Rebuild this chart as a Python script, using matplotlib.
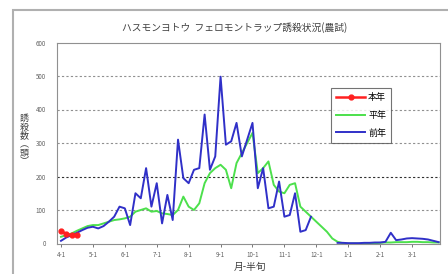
import numpy as np
import matplotlib
matplotlib.use('Agg')
import matplotlib.pyplot as plt
from matplotlib.patches import Rectangle

plt.rcParams['font.family'] = ['Noto Sans CJK JP', 'DejaVu Sans']

#  Data: 72 half-decade periods (4-1 .. 3-6)
month_labels = ['4-1', '5-1', '6-1', '7-1', '8-1', '9-1',
                '10-1', '11-1', '12-1', '1-1', '2-1', '3-1']

this_year = [38, 28, 25, 25]

normal_year = [20, 25, 30, 38, 45, 52, 55, 55, 60, 65, 70, 72,
               75, 80, 95, 100, 105, 95, 97, 90, 88, 85, 100, 140,
               110, 100, 120, 180, 210, 225, 235, 220, 165, 240, 270, 300,
               330, 210, 225, 245, 175, 155, 150, 175, 180, 110, 95, 80,
               65, 50, 35, 15, 5, 1, 0, 0, 0, 0, 0, 1,
               2, 3, 3, 4, 4, 4, 5, 5, 4, 4, 3, 3]

last_year = [8, 18, 25, 32, 40, 47, 50, 45, 52, 65, 80, 110,
             105, 55, 150, 135, 225, 110, 180, 60, 145, 70, 310, 195,
             180, 220, 225, 385, 220, 260, 498, 295, 305, 360, 260, 310,
             360, 165, 225, 105, 110, 185, 80, 85, 150, 35, 40, 80,
             np.nan, np.nan, np.nan, np.nan, 2, 2, 1, 1, 1, 2, 2, 3,
             3, 5, 32, 10, 12, 15, 16, 15, 14, 12, 8, 4]

fig = plt.figure(figsize=(4.48, 2.74), dpi=100)
ax = fig.add_axes([57 / 448, 1 - 243.5 / 274, 383 / 448, 201 / 274])

#  Outer chart border
fig.patches.append(Rectangle((13 / 448, -0.1), 1.2, 1 - 10 / 274 + 0.1,
                             transform=fig.transFigure, fill=False,
                             edgecolor='#b0b0b0', linewidth=1.5))

#  Grid lines
for gy in [100, 300, 400, 500]:
    ax.axhline(gy, color='#909090', linestyle=(0, (2, 2)), linewidth=0.8, zorder=1)
ax.axhline(200, color='#303030', linestyle=(0, (2, 2)), linewidth=0.8, zorder=1)

x_normal = np.arange(len(normal_year))
x_last = np.arange(len(last_year))
x_this = np.arange(len(this_year))

ax.plot(x_this, this_year, color='#ff2020', linewidth=1.8,
        marker='o', markersize=3.5, label='本年', zorder=4)
ax.plot(x_normal, normal_year, color='#4ce04c', linewidth=1.4,
        label='平年', zorder=2)
ax.plot(x_last, last_year, color='#3030c8', linewidth=1.4,
        label='前年', zorder=3)

ax.set_xlim(-0.75, 71.25)
ax.set_ylim(0, 600)
ax.set_xticks(np.arange(0, 72, 6))
ax.set_xticklabels(month_labels)
ax.set_yticks(np.arange(0, 601, 100))
ax.tick_params(axis='both', labelsize=4.5, colors='#606060', length=2, width=0.6)
ax.tick_params(axis='y', length=0, pad=8)
for sp in ax.spines.values():
    sp.set_color('#909090')
    sp.set_linewidth(0.8)

fig.text(235 / 448, 1 - 28 / 274, 'ハスモンヨトウ  フェロモントラップ誘殺状況(農試)',
         ha='center', va='center', fontsize=7, color='#404040')
fig.text(24 / 448, 1 - 140 / 274, '誘\n殺\n数\n︵\n頭\n︶',
         ha='center', va='center', fontsize=6.5, color='#404040', linespacing=0.95)
fig.text(250 / 448, 1 - 267 / 274, '月-半旬',
         ha='center', va='center', fontsize=7, color='#404040')

leg = ax.legend(loc='upper left', bbox_to_anchor=((331 - 57) / 383, (243.5 - 88) / 201),
                fontsize=6.5, frameon=True, fancybox=False, borderpad=0.6,
                handlelength=3.2, labelspacing=0.95, handletextpad=0.3,
                borderaxespad=0)
leg.get_frame().set_edgecolor('#505050')
leg.get_frame().set_linewidth(0.8)

fig.savefig('out.png', dpi=100)
